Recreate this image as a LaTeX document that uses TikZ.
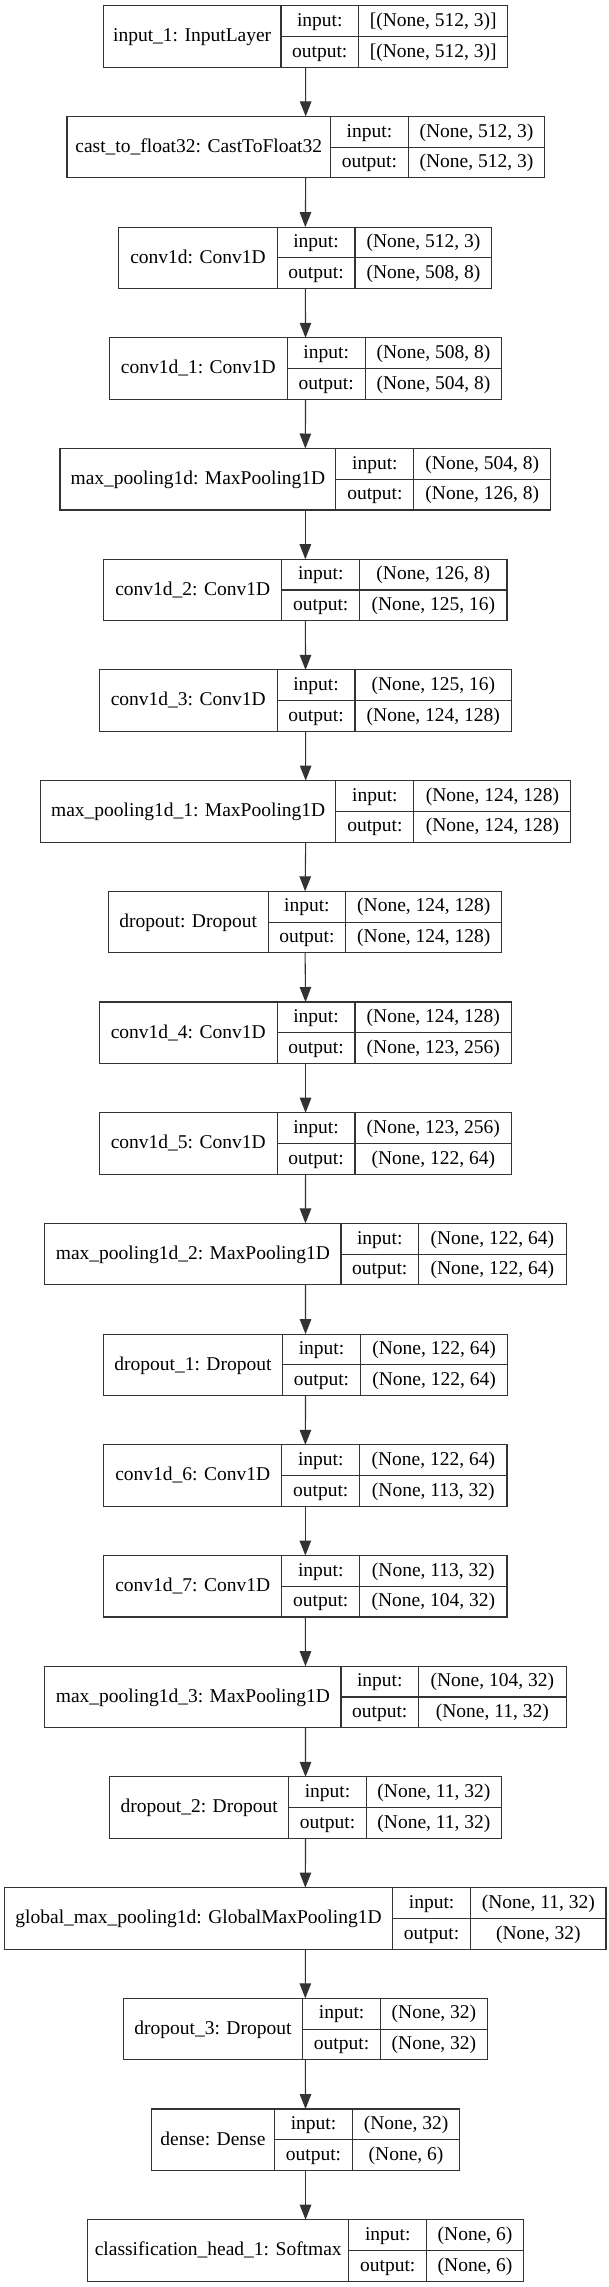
\documentclass[tikz,border=0pt]{standalone}
\usepackage{fontspec}
\setmainfont{Liberation Serif}
\usetikzlibrary{arrows.meta}

\newcommand{\layerrec}[8]{%
  \pgfmathsetmacro{\ytop}{5.7+110.7*(#1-1)}
  \node[rec, minimum width={(#5-#2)*1pt}, minimum height=61.5pt] (lay#1) at ({(#2+#5)/2},{\ytop+30.75}) {};
  \node[cell, minimum width={(#3-#2)*1pt}, minimum height=61.5pt] (lay#1-name) at ({(#2+#3)/2},{\ytop+30.75}) {#6};
  \node[cell, minimum width={(#4-#3)*1pt}, minimum height=30.75pt] (lay#1-in) at ({(#3+#4)/2},{\ytop+15.375}) {input:};
  \node[cell, minimum width={(#4-#3)*1pt}, minimum height=30.75pt] (lay#1-out) at ({(#3+#4)/2},{\ytop+46.125}) {output:};
  \node[cell, minimum width={(#5-#4)*1pt}, minimum height=30.75pt] (lay#1-inval) at ({(#4+#5)/2},{\ytop+15.375}) {#7};
  \node[cell, minimum width={(#5-#4)*1pt}, minimum height=30.75pt] (lay#1-outval) at ({(#4+#5)/2},{\ytop+46.125}) {#8};
}

\begin{document}
\begin{tikzpicture}[x=1pt, y=-1pt,
  rec/.style={inner sep=0pt, outer sep=0pt},
  cell/.style={draw=black!80, line width=1.1pt, inner sep=0pt, text height=14pt, text depth=3.5pt,
    font=\fontsize{19.5pt}{23pt}\selectfont},
  flow/.style={draw=black!80, line width=1.1pt, -{Triangle[length=15pt, width=11.5pt]}}]
  \fill[white] (0,0) rectangle (608,2287);
  \useasboundingbox (0,0) rectangle (608,2287);

  \layerrec{1}{103.3}{281.0}{358.5}{507.8}{input\_1: InputLayer}{[(None, 512, 3)]}{[(None, 512, 3)]}
  \layerrec{2}{67.0}{330.5}{408.4}{544.4}{cast\_to\_float32: CastToFloat32}{(None, 512, 3)}{(None, 512, 3)}
  \layerrec{3}{118.9}{277.1}{355.0}{491.8}{conv1d: Conv1D}{(None, 512, 3)}{(None, 508, 8)}
  \layerrec{4}{109.5}{287.2}{365.2}{501.6}{conv1d\_1: Conv1D}{(None, 508, 8)}{(None, 504, 8)}
  \layerrec{5}{60.0}{335.9}{413.9}{550.7}{max\_pooling1d: MaxPooling1D}{(None, 504, 8)}{(None, 126, 8)}
  \layerrec{6}{103.7}{281.8}{359.7}{507.0}{conv1d\_2: Conv1D}{(None, 126, 8)}{(None, 125, 16)}
  \layerrec{7}{99.4}{277.1}{355.0}{511.7}{conv1d\_3: Conv1D}{(None, 125, 16)}{(None, 124, 128)}
  \layerrec{8}{40.5}{335.9}{413.9}{570.9}{max\_pooling1d\_1: MaxPooling1D}{(None, 124, 128)}{(None, 124, 128)}
  \layerrec{9}{108.3}{268.1}{345.7}{501.9}{dropout: Dropout}{(None, 124, 128)}{(None, 124, 128)}
  \layerrec{10}{99.4}{277.1}{355.0}{511.7}{conv1d\_4: Conv1D}{(None, 124, 128)}{(None, 123, 256)}
  \layerrec{11}{99.4}{277.1}{355.0}{511.7}{conv1d\_5: Conv1D}{(None, 123, 256)}{(None, 122, 64)}
  \layerrec{12}{44.8}{341.0}{418.5}{566.2}{max\_pooling1d\_2: MaxPooling1D}{(None, 122, 64)}{(None, 122, 64)}
  \layerrec{13}{103.3}{282.5}{360.5}{507.8}{dropout\_1: Dropout}{(None, 122, 64)}{(None, 122, 64)}
  \layerrec{14}{103.7}{281.8}{359.7}{507.0}{conv1d\_6: Conv1D}{(None, 122, 64)}{(None, 113, 32)}
  \layerrec{15}{103.7}{281.8}{359.7}{507.0}{conv1d\_7: Conv1D}{(None, 113, 32)}{(None, 104, 32)}
  \layerrec{16}{44.8}{341.0}{418.5}{566.2}{max\_pooling1d\_3: MaxPooling1D}{(None, 104, 32)}{(None, 11, 32)}
  \layerrec{17}{109.5}{288.8}{366.3}{501.6}{dropout\_2: Dropout}{(None, 11, 32)}{(None, 11, 32)}
  \layerrec{18}{4.7}{392.4}{470.8}{606.0}{global\_max\_pooling1d: GlobalMaxPooling1D}{(None, 11, 32)}{(None, 32)}
  \layerrec{19}{123.1}{302.8}{380.4}{487.5}{dropout\_3: Dropout}{(None, 32)}{(None, 32)}
  \layerrec{20}{151.2}{274.7}{352.3}{459.9}{dense: Dense}{(None, 32)}{(None, 6)}
  \layerrec{21}{87.7}{348.8}{426.7}{523.4}{classification\_head\_1: Softmax}{(None, 6)}{(None, 6)}

  \foreach \i [evaluate=\i as \j using int(\i+1)] in {1,...,20}
    \draw[flow] (lay\i.south) -- (lay\j.north);
\end{tikzpicture}
\end{document}
